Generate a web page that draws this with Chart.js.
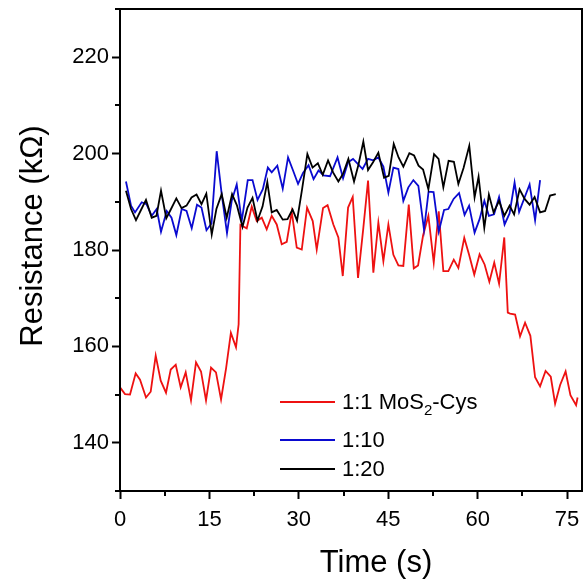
<!DOCTYPE html>
<html>
<head>
<meta charset="utf-8">
<script src="https://cdn.jsdelivr.net/npm/chart.js@4"></script>
<style>
  html, body { margin: 0; padding: 0; background: #fff; }
  #wrap { width: 584px; height: 583px; }
</style>
</head>
<body>
<div id="wrap"><canvas id="c" width="584" height="583"></canvas></div>
<script>
// --- data ---
const redTime = [0, 0.84, 1.68, 2.63, 3.36, 4.36, 5.15, 5.99, 6.83, 7.72, 8.51, 9.35, 10.18, 11.02, 11.91, 12.75, 13.59, 14.43, 15.27, 16.1, 16.95, 17.8, 18.6, 19.46, 19.9, 20.2, 21.26, 22.1, 22.94, 23.78, 24.61, 25.45, 26.29, 27.13, 27.97, 28.81, 29.65, 30.49, 31.38, 32.33, 33.0, 34.06, 34.82, 35.79, 36.63, 37.37, 38.26, 39.04, 39.93, 40.82, 41.61, 42.5, 43.34, 44.18, 45.02, 45.86, 46.7, 47.53, 48.44, 49.28, 50.0, 50.84, 51.73, 52.63, 53.47, 54.24, 55.08, 55.99, 56.76, 57.75, 58.56, 59.43, 60.32, 61.16, 61.96, 62.78, 63.59, 64.46, 65.05, 65.44, 66.28, 67.11, 67.95, 68.84, 69.63, 70.47, 71.39, 72.26, 72.99, 73.83, 74.75, 75.56, 76.51, 76.76];
const redRes = [151.5, 150.1, 150.0, 154.4, 153.1, 149.4, 150.6, 158.1, 152.9, 150.4, 155.2, 156.2, 151.5, 154.6, 148.8, 156.7, 154.8, 148.8, 155.6, 154.6, 149.0, 155.5, 162.8, 159.8, 164.6, 185.2, 184.5, 189.0, 186.0, 186.7, 184.3, 187.1, 185.3, 181.2, 181.7, 187.9, 180.5, 180.1, 188.8, 186.0, 180.1, 188.7, 189.3, 185.3, 182.6, 174.6, 188.8, 191.0, 174.2, 184.6, 194.4, 175.3, 185.7, 177.7, 185.3, 179.0, 176.8, 176.7, 189.4, 176.2, 176.8, 183.0, 187.1, 177.4, 188.0, 175.6, 175.6, 178.0, 176.3, 182.5, 179.0, 174.9, 179.1, 177.0, 173.4, 177.4, 173.0, 182.6, 167.0, 166.8, 166.6, 162.1, 164.9, 162.2, 153.6, 151.7, 154.9, 153.7, 148.1, 152.0, 154.8, 149.9, 147.8, 149.4];

const blueTime = [1.0, 1.85, 2.52, 3.64, 4.44, 5.32, 6.16, 6.88, 7.84, 8.64, 9.45, 10.35, 11.16, 12.03, 12.92, 13.67, 14.51, 15.35, 16.22, 17.06, 17.95, 18.74, 19.58, 20.42, 21.43, 22.23, 23.07, 23.96, 24.8, 25.45, 26.39, 27.3, 28.19, 29.03, 29.87, 30.7, 31.63, 32.47, 33.3, 34.14, 35.23, 36.49, 37.42, 38.26, 39.09, 39.93, 40.69, 41.61, 42.45, 43.34, 44.18, 45.02, 45.86, 46.7, 47.53, 48.37, 49.21, 50.05, 51.0, 51.76, 52.6, 53.47, 54.36, 55.08, 55.96, 56.88, 57.8, 58.56, 59.48, 60.32, 61.12, 61.88, 62.75, 63.59, 64.51, 65.35, 66.19, 66.95, 67.87, 68.71, 69.63, 70.47];
const blueRes = [194.2, 189.2, 187.8, 189.9, 189.5, 187.1, 188.5, 183.8, 188.1, 186.7, 183.1, 188.5, 188.1, 184.5, 189.4, 188.8, 184.1, 185.5, 200.5, 191.6, 183.5, 190.2, 193.6, 186.0, 194.5, 194.5, 190.4, 192.6, 197.1, 196.1, 197.5, 192.7, 199.2, 196.5, 193.7, 196.0, 197.6, 194.7, 196.5, 195.5, 195.3, 199.2, 194.9, 198.2, 198.9, 197.8, 196.8, 198.9, 198.6, 199.2, 197.3, 191.9, 197.1, 196.8, 190.2, 193.0, 194.5, 193.3, 184.2, 192.1, 192.0, 183.8, 188.3, 188.5, 190.6, 191.8, 187.3, 189.2, 183.6, 186.4, 190.2, 187.1, 187.4, 191.0, 185.3, 187.6, 194.0, 187.9, 190.9, 193.6, 186.2, 194.5];

const blackTime = [1.0, 1.85, 2.68, 3.52, 4.36, 5.32, 6.12, 6.88, 7.77, 8.56, 9.45, 10.32, 11.16, 12.0, 12.84, 13.67, 14.48, 15.39, 16.17, 17.06, 17.9, 18.8, 19.63, 20.55, 21.39, 22.23, 23.07, 23.91, 24.71, 25.45, 26.29, 27.3, 28.1, 28.94, 29.7, 30.54, 31.43, 32.3, 33.19, 34.01, 34.9, 35.74, 36.63, 37.42, 38.31, 39.26, 40.02, 40.82, 41.61, 42.45, 43.34, 44.3, 45.08, 45.92, 46.73, 47.53, 48.54, 49.33, 50.08, 50.84, 51.73, 52.68, 53.44, 54.24, 55.12, 56.01, 56.76, 57.63, 58.59, 59.48, 60.15, 61.11, 61.88, 62.67, 63.59, 64.48, 65.35, 66.11, 67.03, 67.87, 68.71, 69.55, 70.47, 71.31, 72.15, 73.1];
const blackRes = [192.3, 188.5, 186.2, 188.3, 190.4, 186.7, 187.1, 192.3, 186.6, 188.5, 190.7, 188.7, 189.2, 190.9, 191.5, 189.5, 191.7, 183.2, 188.5, 191.6, 186.7, 191.6, 189.2, 184.8, 188.8, 190.8, 186.1, 189.0, 194.1, 187.8, 188.3, 186.3, 186.4, 188.4, 186.1, 192.6, 199.9, 197.1, 198.0, 195.6, 198.6, 196.1, 194.2, 195.8, 198.9, 194.2, 197.8, 202.5, 196.6, 198.2, 200.2, 195.0, 195.4, 202.0, 199.2, 197.3, 200.1, 199.6, 197.5, 196.7, 192.6, 199.9, 198.9, 193.0, 198.5, 198.3, 193.7, 197.0, 201.6, 190.9, 195.2, 184.6, 191.5, 187.8, 190.2, 187.1, 189.2, 187.4, 192.6, 190.6, 189.4, 191.0, 187.8, 188.1, 191.3, 191.6];

const seriesLabels = ["1:1 MoS\u2082-Cys", "1:10", "1:20"];
const xTicks = [0, 15, 30, 45, 60, 75];
const xMinor = [7.5, 22.5, 37.5, 52.5, 67.5];
const yTicks = [140, 160, 180, 200, 220];
const yMinor = [130, 150, 170, 190, 210, 230];

const FONT = "'Liberation Sans', Arial, sans-serif";

function pts(t, v) { return t.map((x, i) => ({ x: x, y: v[i] })); }

// frame, minor ticks, axis titles and legend
const extras = {
  id: "extras",
  afterDraw(chart) {
    const ctx = chart.ctx, a = chart.chartArea;
    const xs = chart.scales.x, ys = chart.scales.y;
    ctx.save();
    ctx.strokeStyle = "#000";
    ctx.lineWidth = 2;
    ctx.strokeRect(a.left, a.top, a.right - a.left, a.bottom - a.top);

    // minor ticks
    ctx.beginPath();
    xMinor.forEach(v => {
      const px = Math.round(xs.getPixelForValue(v));
      ctx.moveTo(px, a.bottom); ctx.lineTo(px, a.bottom + 5);
    });
    yMinor.forEach(v => {
      const py = Math.round(ys.getPixelForValue(v));
      ctx.moveTo(a.left, py); ctx.lineTo(a.left - 5, py);
    });
    ctx.stroke();

    // axis titles
    ctx.fillStyle = "#000";
    ctx.font = "31px " + FONT;
    ctx.textAlign = "center";
    ctx.textBaseline = "middle";
    ctx.fillText("Time (s)", (a.left + a.right) / 2 + 25, 563);
    ctx.save();
    ctx.translate(33, 236);
    ctx.rotate(-Math.PI / 2);
    ctx.fillText("Resistance (k\u03A9)", 0, 0);
    ctx.restore();

    // legend
    const rows = [402, 440, 469];
    ctx.textAlign = "left";
    chart.data.datasets.forEach((ds, i) => {
      const y = rows[i];
      ctx.strokeStyle = ds.borderColor;
      ctx.lineWidth = 2;
      ctx.beginPath();
      ctx.moveTo(280, y); ctx.lineTo(335, y);
      ctx.stroke();
      ctx.fillStyle = "#000";
      ctx.font = "22px " + FONT;
      const lab = ds.label;
      const k = lab.indexOf("\u2082");
      if (k < 0) {
        ctx.fillText(lab, 342, y + 1);
      } else {
        let x = 342;
        const a1 = lab.slice(0, k), a2 = lab.slice(k + 1);
        ctx.fillText(a1, x, y + 1);
        x += ctx.measureText(a1).width;
        ctx.font = "15px " + FONT;
        ctx.fillText("2", x, y + 9);
        x += ctx.measureText("2").width;
        ctx.font = "22px " + FONT;
        ctx.fillText(a2, x, y + 1);
      }
    });
    ctx.restore();
  }
};

new Chart(document.getElementById("c"), {
  type: "line",
  data: {
    datasets: [
      { label: seriesLabels[0], data: pts(redTime, redRes), borderColor: "#ee1111", order: 2 },
      { label: seriesLabels[1], data: pts(blueTime, blueRes), borderColor: "#0a0ad0", order: 1 },
      { label: seriesLabels[2], data: pts(blackTime, blackRes), borderColor: "#000000", order: 0 }
    ]
  },
  options: {
    responsive: false,
    animation: false,
    devicePixelRatio: 1,
    layout: { padding: { top: 9, right: 2, left: 0, bottom: 0 } },
    elements: {
      point: { radius: 0 },
      line: { borderWidth: 1.8, tension: 0, fill: false }
    },
    plugins: { legend: { display: false }, tooltip: { enabled: false } },
    scales: {
      x: {
        type: "linear",
        min: 0, max: 77.5,
        afterBuildTicks: s => { s.ticks = xTicks.map(v => ({ value: v })); },
        afterFit: s => { s.height = 92; s.paddingLeft = 0; s.paddingRight = 0; },
        border: { color: "#000", width: 2 },
        grid: { drawOnChartArea: false, drawTicks: true, tickLength: 8, tickColor: "#000", tickWidth: 2 },
        ticks: { color: "#000", font: { family: FONT, size: 22 }, padding: 8, maxRotation: 0 }
      },
      y: {
        type: "linear",
        min: 130, max: 230,
        afterBuildTicks: s => { s.ticks = yTicks.map(v => ({ value: v })); },
        afterFit: s => { s.width = 120; s.paddingTop = 0; s.paddingBottom = 0; },
        border: { color: "#000", width: 2 },
        grid: { drawOnChartArea: false, drawTicks: true, tickLength: 8, tickColor: "#000", tickWidth: 2 },
        ticks: { color: "#000", font: { family: FONT, size: 22 }, padding: 3 }
      }
    }
  },
  plugins: [extras]
});
</script>
</body>
</html>
